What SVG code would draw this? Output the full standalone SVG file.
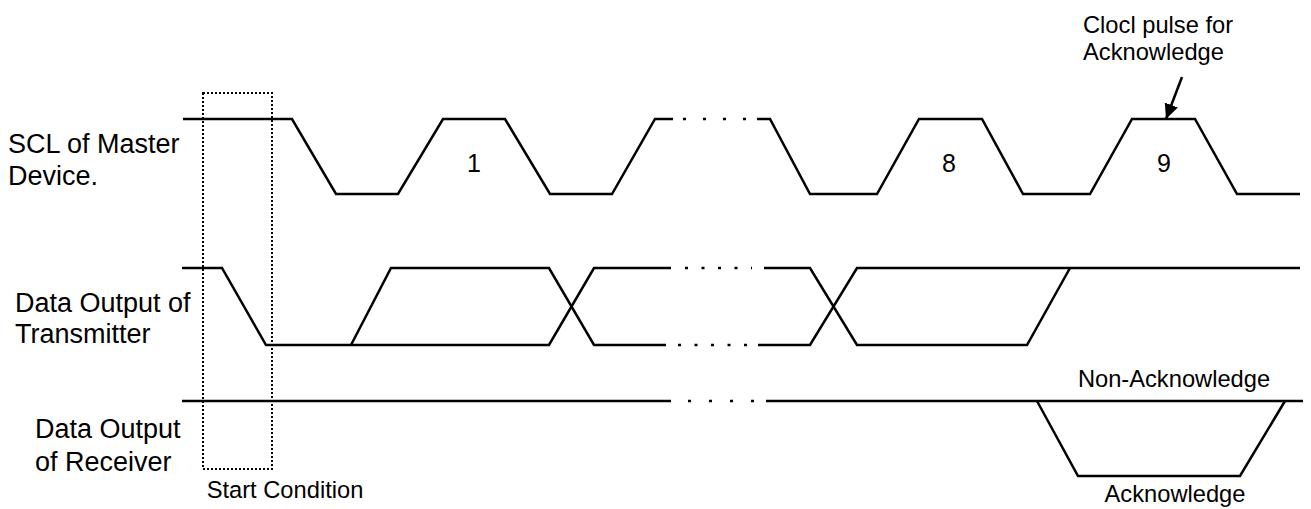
<svg xmlns="http://www.w3.org/2000/svg" width="1311" height="509" viewBox="0 0 1311 509">
<style>
.sig{fill:none;stroke:#000;stroke-width:2.5;stroke-linejoin:miter;stroke-linecap:butt}
.dots{fill:none;stroke:#000;stroke-width:2.5}
.box{fill:none;stroke:#000;stroke-width:2;stroke-dasharray:2 2}
.lbl{font-family:"Liberation Sans",Arial,sans-serif;font-size:27px;fill:#000}
.sm{font-family:"Liberation Sans",Arial,sans-serif;font-size:23.7px;fill:#000}
.num{font-family:"Liberation Sans",Arial,sans-serif;font-size:25px;fill:#000;text-anchor:middle}
</style>
<defs>
<marker id="ah" markerUnits="userSpaceOnUse" markerWidth="16" markerHeight="14" refX="15" refY="7" orient="auto">
<path d="M0,0 L15,7 L0,14 z" fill="#000"/>
</marker>
</defs>
<rect width="1311" height="509" fill="#fff"/>

<g id="labels">
<text class="lbl" x="8" y="153">SCL of Master</text>
<text class="lbl" x="8" y="185">Device.</text>
<text class="lbl" x="15" y="312">Data Output of</text>
<text class="lbl" x="15" y="343">Transmitter</text>
<text class="lbl" x="35" y="438">Data Output</text>
<text class="lbl" x="35" y="471">of Receiver</text>
</g>

<g id="start-condition">
<rect class="box" x="203" y="93" width="69" height="376"/>
<text class="sm" x="285" y="498" text-anchor="middle">Start Condition</text>
</g>

<g id="scl">
<path class="sig" d="M183,119 H292 L336,194 H398 L443,119 H505 L550,194 H612 L655,119 H673"/>
<line class="dots" x1="683" y1="119" x2="750" y2="119" stroke-dasharray="3 17"/>
<path class="sig" d="M757,119 H770 L810,194 H877 L919,119 H982 L1023,194 H1090 L1132,119 H1195 L1237,194 H1300"/>
<text class="num" x="474" y="172">1</text>
<text class="num" x="949" y="172">8</text>
<text class="num" x="1164" y="172">9</text>
</g>

<g id="sda-tx">
<path class="sig" d="M182,268 H222 L266,345 H549 L594,268 H671"/>
<line class="dots" x1="685" y1="268" x2="752" y2="268" stroke-dasharray="3 13.5"/>
<path class="sig" d="M764,268 H810 L857,345 H1027 L1070,268"/>
<path class="sig" d="M351,345 L391,268 H549 L594,345 H666"/>
<line class="dots" x1="678" y1="345" x2="748" y2="345" stroke-dasharray="3 13.5"/>
<path class="sig" d="M758,345 H810 L857,268 H1300"/>
</g>

<g id="sda-rx">
<path class="sig" d="M182,401 H671"/>
<line class="dots" x1="688" y1="401" x2="755" y2="401" stroke-dasharray="3 18"/>
<path class="sig" d="M766,401 H1303"/>
<path class="sig" d="M1037,401 L1078,476 H1240 L1285,401"/>
<text class="sm" x="1174" y="387" text-anchor="middle">Non-Acknowledge</text>
<text class="sm" x="1175" y="502" text-anchor="middle">Acknowledge</text>
</g>

<g id="ack-note">
<text class="sm" x="1083" y="33">Clocl pulse for</text>
<text class="sm" x="1083" y="60">Acknowledge</text>
</g>

<g id="connectors">
<line x1="1182" y1="77" x2="1166" y2="119" stroke="#000" stroke-width="2.5" marker-end="url(#ah)"/>
</g>
</svg>
